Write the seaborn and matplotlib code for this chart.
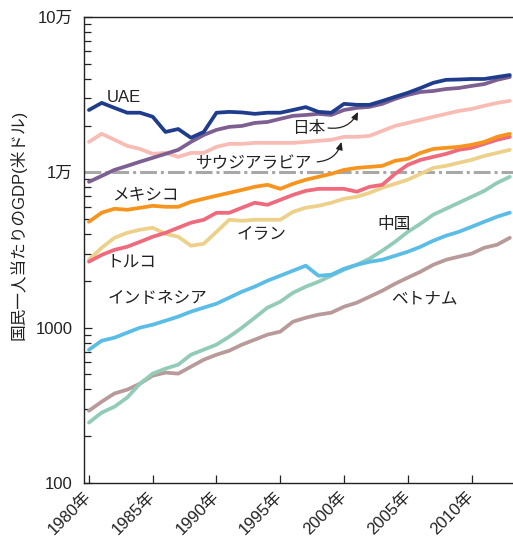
import numpy as np
import pandas as pd
import matplotlib
matplotlib.use('Agg')
import matplotlib.pyplot as plt
import matplotlib.ticker as mticker
import matplotlib.transforms as mtransforms
import seaborn as sns

# per-capita GDP (USD)
years = list(range(1980, 2014))
uae = [25200, 28000, 26000, 24200, 24200, 22800, 18200, 19000, 16700, 18200,
       24200, 24500, 24300, 23800, 24200, 24200, 25200, 26300, 24500, 24200,
       27600, 27200, 27200, 28800, 30600, 32500, 34900, 37700, 39400, 39600,
       39900, 39900, 41100, 42300]
japan = [8690, 9480, 10370, 11000, 11700, 12400, 13150, 13960, 15700, 17400,
         18770, 19620, 19900, 20800, 21100, 22100, 23100, 23400, 23800, 23400,
         25200, 26000, 26400, 27600, 29700, 31500, 32900, 33400, 34400, 34900,
         36000, 37000, 39400, 41100]
saudi = [15700, 17700, 16200, 14800, 14150, 13150, 13340, 12580, 13340, 13340,
         14590, 15250, 15250, 15480, 15480, 15480, 15480, 15700, 15960, 16200,
         16920, 16920, 17170, 18490, 19900, 20800, 21770, 22760, 23800, 24850,
         25600, 26800, 28000, 28840]
mexico = [4810, 5500, 5830, 5740, 5910, 6090, 6000, 6000, 6460, 6760,
          7070, 7380, 7710, 8070, 8310, 7830, 8440, 8960, 9360, 9780,
          10370, 10680, 10840, 11010, 11860, 12220, 13340, 14150, 14380, 14590,
          15030, 15700, 16920, 17690]
turkey = [2660, 2940, 3170, 3320, 3570, 3850, 4080, 4400, 4740, 4950,
          5490, 5490, 5920, 6370, 6180, 6650, 7160, 7600, 7830, 7830,
          7830, 7500, 8070, 8310, 9780, 11170, 12030, 12580, 13150, 13960,
          14380, 15250, 16180, 16920]
iran = [2740, 3270, 3790, 4080, 4270, 4400, 4020, 3850, 3370, 3470,
        4140, 4950, 4880, 4950, 4950, 4950, 5570, 5920, 6090, 6370,
        6760, 6960, 7380, 7950, 8440, 8960, 9780, 10680, 11010, 11520,
        12030, 12760, 13340, 13960]
indonesia = [721, 824, 862, 929, 1000, 1045, 1109, 1178, 1268, 1346,
             1427, 1560, 1706, 1837, 2006, 2160, 2327, 2506, 2160, 2192,
             2395, 2540, 2655, 2736, 2903, 3082, 3318, 3630, 3910, 4140,
             4460, 4810, 5180, 5500]
china = [245, 284, 310, 355, 436, 506, 545, 578, 670, 722,
         778, 875, 1000, 1159, 1345, 1469, 1679, 1836, 1977, 2160,
         2360, 2540, 2780, 3130, 3570, 4140, 4670, 5340, 5830, 6370,
         6960, 7600, 8550, 9360]
vietnam = [292, 334, 377, 399, 436, 491, 514, 506, 561, 622,
           670, 711, 778, 837, 902, 943, 1093, 1159, 1213, 1249,
           1365, 1448, 1582, 1729, 1918, 2100, 2293, 2540, 2736, 2864,
           2995, 3270, 3420, 3790]

countries = ['ベトナム', '中国', 'インドネシア', 'イラン', 'トルコ', 'メキシコ',
             'サウジアラビア', '日本', 'UAE']
series = [vietnam, china, indonesia, iran, turkey, mexico, saudi, japan, uae]
colors = ['#b99a9a', '#93cbb9', '#5bbde6', '#edd08a', '#ee6a7c', '#f7941d',
          '#f9bcb5', '#7d5f91', '#1f3d8c']

y_ticks = [100, 1000, 10000, 100000]
y_tick_labels = ['100', '1000', '1万', '10万']
x_ticks = [1980, 1985, 1990, 1995, 2000, 2005, 2010]
x_tick_labels = [f'{y}年' for y in x_ticks]

df = pd.DataFrame({
    'year': np.tile(years, len(countries)),
    'gdp': np.concatenate(series),
    'country': np.repeat(countries, len(years)),
})

sns.set_style('ticks')
plt.rcParams['font.family'] = ['Liberation Sans', 'Noto Sans CJK JP', 'DejaVu Sans']

fig = plt.figure(figsize=(5.13, 5.38), dpi=100)
ax = fig.add_axes([0.1637, 0.1022, 0.8363, 0.8662])

# reference line at 1万
ax.axhline(10000, color='#a8a8a8', lw=2.2, ls=(0, (5.5, 1.3, 1.0, 1.3)), zorder=1)

sns.lineplot(data=df, x='year', y='gdp', hue='country', hue_order=countries,
             palette=dict(zip(countries, colors)), linewidth=2.7,
             legend=False, ax=ax, zorder=3)

ax.set_yscale('log')
ax.set_ylim(100, 100000)
ax.set_xlim(1979.61, 2013.25)

ax.yaxis.set_major_locator(mticker.FixedLocator(y_ticks))
ax.yaxis.set_major_formatter(mticker.FixedFormatter(y_tick_labels))
ax.yaxis.set_minor_locator(mticker.LogLocator(base=10, subs=np.arange(2, 10)))
ax.yaxis.set_minor_formatter(mticker.NullFormatter())
ax.set_xticks(x_ticks)
ax.set_xticklabels(x_tick_labels, rotation=45, ha='right', va='center',
                   rotation_mode='anchor', fontsize=12)
shift = mtransforms.ScaledTranslation(11 / 100, 0, fig.dpi_scale_trans)
for lab in ax.get_xticklabels():
    lab.set_transform(lab.get_transform() + shift)

ax.tick_params(axis='both', which='both', direction='in', color='#222222',
               labelcolor='#222222')
ax.tick_params(axis='y', which='major', length=6, width=0.9, pad=8, labelsize=12)
ax.tick_params(axis='y', which='minor', length=5, width=0.9)
ax.tick_params(axis='x', which='major', length=6, width=0.9, pad=8)

for side in ['left', 'bottom', 'top']:
    ax.spines[side].set_color('#222222')
    ax.spines[side].set_linewidth(1.0)
ax.spines['right'].set_visible(False)

ax.set_xlabel('')
ax.set_ylabel('国民一人当たりのGDP(米ドル)', fontsize=12, color='#222222')
ax.yaxis.set_label_coords(-0.133, 0.554)

# inline series labels
lab_kw = dict(fontsize=12, color='#222222', ha='center', va='center', zorder=5)
ax.text(1982.75, 30100, 'UAE', **lab_kw)
ax.text(1997.25, 19050, '日本', **lab_kw)
ax.text(1992.94, 11350, 'サウジアラビア', **lab_kw)
ax.text(1984.4, 7160, 'メキシコ', **lab_kw)
ax.text(1993.57, 4025, 'イラン', **lab_kw)
ax.text(1983.3, 2657, 'トルコ', **lab_kw)
ax.text(2003.9, 4595, '中国', **lab_kw)
ax.text(1985.4, 1537, 'インドネシア', **lab_kw)
ax.text(2006.3, 1537, 'ベトナム', **lab_kw)

arrow_kw = dict(arrowstyle='-|>,head_length=0.45,head_width=0.2', color='#222222',
                lw=0.9, connectionstyle='arc3,rad=0.35', shrinkA=0, shrinkB=0)
ax.annotate('', xy=(2001.1, 24500), xytext=(1998.75, 19300), arrowprops=arrow_kw)
ax.annotate('', xy=(1999.8, 15700), xytext=(1997.9, 11680), arrowprops=arrow_kw)

fig.savefig('out.png', dpi=100)
plt.close(fig)
